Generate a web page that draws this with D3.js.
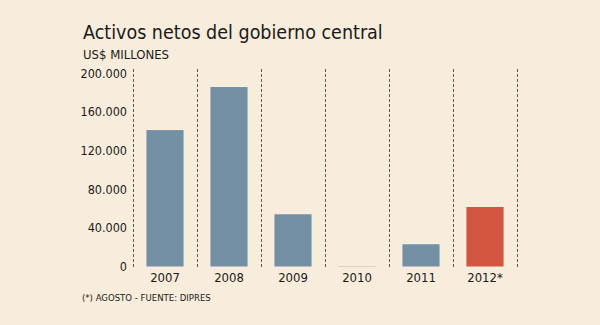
<!DOCTYPE html>
<html><head><meta charset="utf-8">
<script src="https://cdn.jsdelivr.net/npm/d3@7"></script>
<style>
html,body{margin:0;padding:0;background:#f8eddc;}
svg{display:block;}
text{font-family:"DejaVu Sans Condensed","DejaVu Sans",sans-serif;fill:#1a1a1a;}
</style></head>
<body>
<script>
const years = ["2007","2008","2009","2010","2011","2012*"];
const values = [141000, 185500, 54000, 500, 23000, 61500];
const highlight = [false,false,false,false,false,true];
const yTicks = [0,40000,80000,120000,160000,200000];
const title = "Activos netos del gobierno central";
const subtitle = "US$ MILLONES";
const footnote = "(*) AGOSTO - FUENTE: DIPRES";

const W=600,H=325;
const FONT='"DejaVu Sans Condensed","DejaVu Sans",sans-serif';
const svg=d3.select("body").append("svg").attr("width",W).attr("height",H);
svg.append("rect").attr("width",W).attr("height",H).attr("fill","#f8eddc");

const x=d3.scaleBand().domain(years).range([133,517]).paddingInner(0.42).paddingOuter(0.21);
const y=d3.scaleLinear().domain([0,200000]).range([266.5,73]);

// dashed separators
const seps=d3.range(years.length+1).map(i=>133+i*x.step());
svg.selectAll("line.sep").data(seps).enter().append("line")
 .attr("x1",d=>d+0.5).attr("x2",d=>d+0.5).attr("y1",69).attr("y2",267)
 .attr("stroke","#5a5855").attr("stroke-width",1).attr("stroke-dasharray","3,2");

svg.selectAll("rect.bar").data(values).enter().append("rect")
 .attr("x",(d,i)=>x(years[i])).attr("width",x.bandwidth())
 .attr("y",d=>y(d)).attr("height",d=>Math.max(1,y(0)-y(d)))
 .attr("fill",(d,i)=>highlight[i]?"#d15540":(d<1000?"#d9d2c8":"#7390a5"));

const fmt=d=>d3.format(",")(d).replace(/,/g,".");
const yAxis=d3.axisLeft(y).tickValues(yTicks).tickFormat(fmt).tickSize(0).tickPadding(0);
const ga=svg.append("g").attr("transform","translate(127,0)").call(yAxis);
ga.select(".domain").remove();
ga.selectAll("text").attr("font-size",12.5).style("font-family",FONT).attr("fill","#1a1a1a");

const xAxis=d3.axisBottom(x).tickSize(0).tickPadding(0);
const gx=svg.append("g").attr("transform","translate(0,272)").call(xAxis);
gx.select(".domain").remove();
gx.selectAll("text").attr("font-size",13).attr("dy","0.8em").style("font-family",FONT).attr("fill","#1a1a1a");

svg.append("text").attr("x",83).attr("y",39).attr("font-size",19.5).text(title);
svg.append("text").attr("x",83).attr("y",59).attr("font-size",13).text(subtitle);
svg.append("text").attr("x",82).attr("y",301).attr("font-size",9.5).text(footnote);
</script>
</body></html>
